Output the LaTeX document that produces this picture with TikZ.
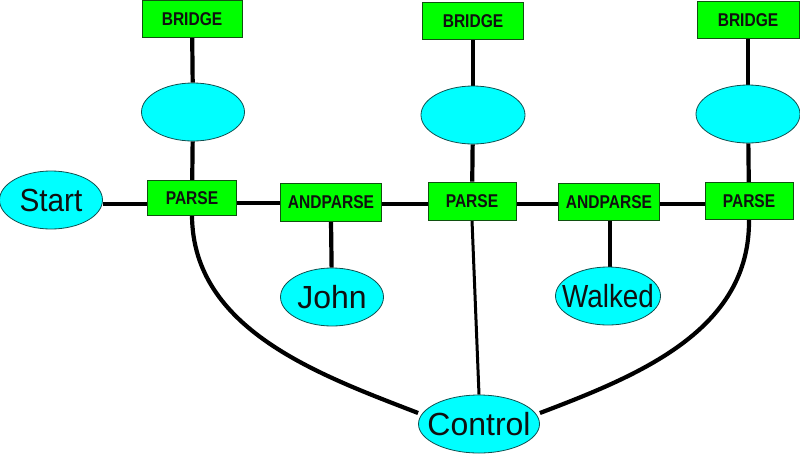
\documentclass[tikz,border=0pt]{standalone}
\usepackage{fontspec}
\setmainfont{Liberation Sans}
\usetikzlibrary{shapes.geometric,backgrounds}
\definecolor{boxgreen}{HTML}{00FF00}
\definecolor{boxedge}{HTML}{105010}
\definecolor{ellcyan}{HTML}{00FFFF}
\definecolor{elledge}{HTML}{105050}
\definecolor{txt}{HTML}{101010}
\tikzset{
  gbox/.style={draw=boxedge, line width=0.8pt, fill=boxgreen, rectangle, inner sep=0pt,
    minimum width=#1, minimum height=37pt, text=txt,
    font=\fontsize{18.5pt}{18.5pt}\selectfont\bfseries},
  gbox/.default=90pt,
  cell/.style={draw=elledge, line width=0.8pt, fill=ellcyan, ellipse, inner sep=0pt,
    minimum width=#1, minimum height=58pt, text=txt,
    font=\fontsize{32pt}{32pt}\selectfont},
  cell/.default=103pt,
  link/.style={line width=4.2pt, black},
  thin link/.style={line width=3pt, black}
}
\newcommand{\sq}[1]{\scalebox{0.84}[1]{#1}}
\newcommand{\ct}[2][1]{\makebox[0pt]{\scalebox{#1}[1]{#2}}}
\begin{document}
\begin{tikzpicture}[x=1pt,y=-1pt]
\useasboundingbox (0,0) rectangle (800,453);
% nodes
\node[gbox=100pt] (b1) at (192,19) {\sq{BRIDGE}};
\node[gbox=101pt] (b2) at (473,21) {\sq{BRIDGE}};
\node[gbox=102pt] (b3) at (748,20) {\sq{BRIDGE}};
\node[cell] (e1) at (193,112) {};
\node[cell=104pt] (e2) at (473,115) {};
\node[cell=104pt] (e3) at (748,114) {};
\node[cell] (start) at (51,200) {\ct[0.93]{Start}};
\node[gbox=89pt, minimum height=35pt] (p1) at (192,198) {\sq{PARSE}};
\node[gbox=101pt, minimum height=38pt] (a1) at (331,202) {\sq{ANDPARSE}};
\node[gbox=88pt, minimum height=38pt] (p2) at (472,201) {\sq{PARSE}};
\node[gbox=101pt, minimum height=37pt] (a2) at (609,202) {\sq{ANDPARSE}};
\node[gbox=88pt, minimum height=37pt] (p3) at (749,201) {\sq{PARSE}};
\node[cell] (john) at (332,297) {\ct{John}};
\node[cell=105pt] (walked) at (608,296) {\ct[0.87]{Walked}};
\node[cell=121pt] (control) at (479,424) {\ct{Control}};
% connectors
\begin{pgfonlayer}{background}
\draw[link] (b1) -- (e1);
\draw[link] (e1) -- (p1);
\draw[link] (b2) -- (e2);
\draw[link] (e2) -- (p2);
\draw[link] (b3) -- (e3);
\draw[link] (e3) -- (p3);
\draw[link] (start.east |- 0,204) -- (p1.west |- 0,204);
\draw[link] (p1.east |- 0,203) -- (a1.west |- 0,203);
\draw[link] (a1.east |- 0,204) -- (p2.west |- 0,204);
\draw[link] (p2.east |- 0,204) -- (a2.west |- 0,204);
\draw[link] (a2.east |- 0,204) -- (p3.west |- 0,204);
\draw[link] (a1.south |- 0,221) -- (john);
\draw[link] (a2.south -| 610,0) -- (walked.north -| 610,0);
\draw[thin link] (p2.south) -- (control.north);
\draw[link] (p1.south) .. controls (193,330) and (320,375) .. (control.west |- 0,413);
\draw[link] (p3.south) .. controls (750,330) and (640,375) .. (control.east |- 0,413);
\end{pgfonlayer}
\end{tikzpicture}
\end{document}
